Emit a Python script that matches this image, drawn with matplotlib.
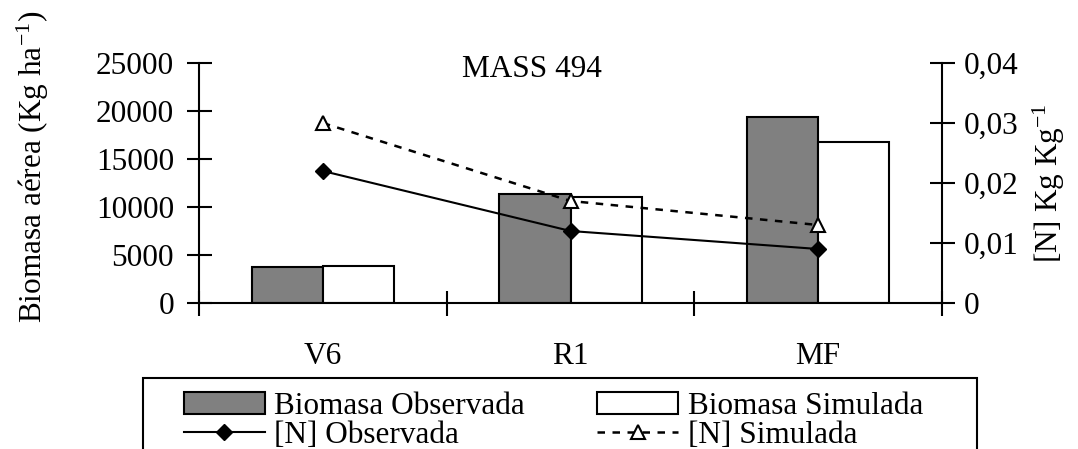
import numpy as np
import matplotlib
matplotlib.use("Agg")
import matplotlib.pyplot as plt
from matplotlib.patches import Rectangle

plt.rcParams['font.family'] = ['Liberation Serif', 'DejaVu Serif']
plt.rcParams['mathtext.fontset'] = 'custom'
plt.rcParams['mathtext.rm'] = 'Liberation Serif'
plt.rcParams['mathtext.it'] = 'Liberation Serif:italic'
plt.rcParams['mathtext.bf'] = 'Liberation Serif:bold'

# data
stages = ["V6", "R1", "MF"]
bio_obs = [3700, 11400, 19400]
bio_sim = [3900, 11000, 16800]
n_obs = [0.022, 0.012, 0.009]
n_sim = [0.030, 0.017, 0.013]

left_ticks = [0, 5000, 10000, 15000, 20000, 25000]
right_ticks = [0, 0.01, 0.02, 0.03, 0.04]
right_labels = ["0", "0,01", "0,02", "0,03", "0,04"]

W, H = 1078, 449
fig = plt.figure(figsize=(W / 100, H / 100), dpi=100)
ax = fig.add_axes([199 / W, (H - 303) / H, (942 - 199) / W, (303 - 63) / H])
ax2 = ax.twinx()

x = np.arange(len(stages))
bw = 0.287
fs = 22.5

ax.bar(x - bw / 2, bio_obs, bw, color="#808080", edgecolor="black", linewidth=1.5,
       label="Biomasa Observada", zorder=2)
ax.bar(x + bw / 2, bio_sim, bw, color="white", edgecolor="black", linewidth=1.5,
       label="Biomasa Simulada", zorder=2)

ax2.plot(x, n_obs, color="black", lw=1.5, marker="D", ms=8, mfc="black", mec="black",
         label="[N] Observada")
ax2.plot(x, n_sim, color="black", lw=1.8, dashes=(3, 3), marker="^", ms=10, mfc="white",
         mec="black", mew=1.5, label="[N] Simulada")

ax.set_xlim(-0.5, 2.5)
ax.set_ylim(0, 25000)
ax2.set_ylim(0, 0.04)

ax.set_xticks(x)
ax.set_xticklabels(stages, fontsize=fs)
ax.tick_params(axis="x", length=0, pad=28)
ax.set_xticks(np.arange(-0.5, 3, 1), minor=True)
ax.tick_params(axis="x", which="minor", length=18, width=1.5, direction="inout")

ax.set_yticks(left_ticks)
ax.set_yticklabels([str(v) for v in left_ticks], fontsize=fs)
ax.tick_params(axis="y", length=18, width=1.5, direction="inout", pad=9)
ax2.set_yticks(right_ticks)
ax2.set_yticklabels(right_labels, fontsize=fs)
ax2.tick_params(axis="y", length=18, width=1.5, direction="inout", pad=7)

for a in (ax, ax2):
    a.spines["top"].set_visible(False)
    for s in ("left", "right", "bottom"):
        a.spines[s].set_linewidth(1.5)
ax2.spines["bottom"].set_visible(False)
ax.spines["right"].set_visible(False)
ax2.spines["left"].set_visible(False)

fig.text(33 / W, 1 - 167 / H, "Biomasa aérea (Kg ha$^{-1}$)", rotation=90,
         ha="center", va="center", fontsize=fs)
fig.text(1049 / W, 1 - 183 / H, "[N] Kg Kg$^{-1}$", rotation=90,
         ha="center", va="center", fontsize=fs)
fig.text(462 / W, 1 - 77 / H, "MASS 494", ha="left", va="baseline", fontsize=fs)

# legend frame drawn separately (bottom runs off the figure)
fig.patches.append(Rectangle((143 / W, -0.05), (977 - 143) / W, 0.05 + (H - 378) / H,
                             transform=fig.transFigure, fill=False, edgecolor="black",
                             linewidth=1.5))

h1, l1 = ax.get_legend_handles_labels()
h2, l2 = ax2.get_legend_handles_labels()
handles = [h1[0], h2[0], h1[1], h2[1]]
labels = [l1[0], l2[0], l1[1], l2[1]]
fig.legend(handles, labels, loc="upper left", bbox_to_anchor=(168 / W, 1 - 376 / H),
           bbox_transform=fig.transFigure, ncol=2, frameon=False, fontsize=fs,
           borderpad=0, handlelength=2.6, handletextpad=0.3, columnspacing=2.3,
           labelspacing=0.0)

fig.savefig("out.png", dpi=100)
